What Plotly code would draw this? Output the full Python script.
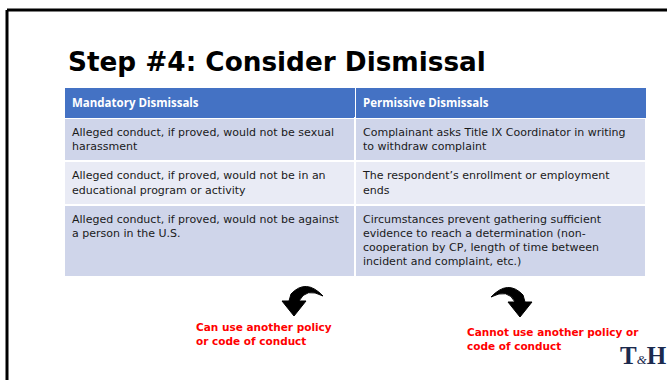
import plotly.graph_objects as go

W, H = 667, 380

title_text = "Step #4: Consider Dismissal"
col_headers = ["Mandatory Dismissals", "Permissive Dismissals"]
mandatory = [
    "Alleged conduct, if proved, would not be sexual<br>harassment",
    "Alleged conduct, if proved, would not be in an<br>educational program or activity",
    "Alleged conduct, if proved, would not be against<br>a person in the U.S.",
]
permissive = [
    "Complainant asks Title IX Coordinator in writing<br>to withdraw complaint",
    "The respondent\u2019s enrollment or employment<br>ends",
    "Circumstances prevent gathering sufficient<br>evidence to reach a determination (non-<br>cooperation by CP, length of time between<br>incident and complaint, etc.)",
]
row_colors = ["#CFD5EA", "#E9EBF5", "#CFD5EA"]
left_note = "Can use another policy<br>or code of conduct"
right_note = "Cannot use another policy or<br>code of conduct"
logo_text = "<b>T</b><span style='font-size:13px'><i>&amp;</i></span><b>H</b>"


def px(x):
    return x / W


def py(y):
    return 1 - y / H


fig = go.Figure()
fig.add_trace(go.Table(
    domain=dict(x=[px(64), px(646)], y=[py(330), py(87)]),
    columnwidth=[1, 1],
    header=dict(
        values=["<b>%s</b>" % h for h in col_headers],
        fill_color="#4472C4",
        line=dict(color="white", width=1),
        align="left",
        font=dict(family="Open Sans", size=11.5, color="white"),
        height=20,
    ),
    cells=dict(
        values=[mandatory, permissive],
        fill_color=[row_colors, row_colors],
        line=dict(color="white", width=2),
        align="left",
        font=dict(family="DejaVu Sans", size=11, color="#1a1a1a"),
        height=30,
    ),
))


def path(points):
    s = "M %f,%f" % (px(points[0][0]), py(points[0][1]))
    for cmd in points[1:]:
        if cmd[0] == "Q":
            s += " Q %f,%f %f,%f" % (px(cmd[1]), py(cmd[2]), px(cmd[3]), py(cmd[4]))
        else:
            s += " L %f,%f" % (px(cmd[0]), py(cmd[1]))
    return s + " Z"


def arrow(mirror):
    base = [
        (323, 296),
        ("Q", 306, 278, 291, 294),
        (289, 301), (282, 301), (294, 316), (306, 301), (299, 301),
        ("Q", 306, 287, 323, 296),
    ]
    out = []
    for p in base:
        if p[0] == "Q":
            x1, y1, x2, y2 = p[1:]
            if mirror:
                x1, x2 = 814 - x1, 814 - x2
                y1, y2 = y1 + 1, y2 + 1
            out.append(("Q", x1, y1, x2, y2))
        else:
            x, y = p
            if mirror:
                x, y = 814 - x, y + 1
            out.append((x, y))
    return out


shapes = [
    dict(type="line", xref="paper", yref="paper", x0=px(7), x1=1.0, y0=py(10), y1=py(10),
         line=dict(color="black", width=3)),
    dict(type="line", xref="paper", yref="paper", x0=px(7), x1=px(7), y0=py(10), y1=0,
         line=dict(color="black", width=3)),
    dict(type="path", xref="paper", yref="paper", path=path(arrow(False)),
         fillcolor="black", line=dict(color="black", width=1)),
    dict(type="path", xref="paper", yref="paper", path=path(arrow(True)),
         fillcolor="black", line=dict(color="black", width=1)),
]

annotations = [
    dict(text="<b>%s</b>" % title_text, x=px(66), y=py(61.5), xref="paper", yref="paper",
         xanchor="left", yanchor="middle", showarrow=False,
         font=dict(family="DejaVu Sans", size=26.3, color="black")),
    dict(text="<b>%s</b>" % left_note, x=px(194), y=py(334), xref="paper", yref="paper",
         xanchor="left", yanchor="middle", showarrow=False, align="left",
         font=dict(family="DejaVu Sans", size=10.5, color="#FF0000")),
    dict(text="<b>%s</b>" % right_note, x=px(465), y=py(339), xref="paper", yref="paper",
         xanchor="left", yanchor="middle", showarrow=False, align="left",
         font=dict(family="DejaVu Sans", size=10.5, color="#FF0000")),
    dict(text=logo_text, x=px(643), y=py(355), xref="paper", yref="paper",
         xanchor="center", yanchor="middle", showarrow=False,
         font=dict(family="Liberation Serif", size=25, color="#1B2A4E")),
]

fig.update_layout(
    width=W, height=H,
    margin=dict(l=0, r=0, t=0, b=0),
    paper_bgcolor="white", plot_bgcolor="white",
    shapes=shapes, annotations=annotations,
    showlegend=False,
)
fig.write_html("out.html",
               config={"displayModeBar": False},
               post_script="document.body.style.margin='0';document.body.style.overflow='hidden';")
